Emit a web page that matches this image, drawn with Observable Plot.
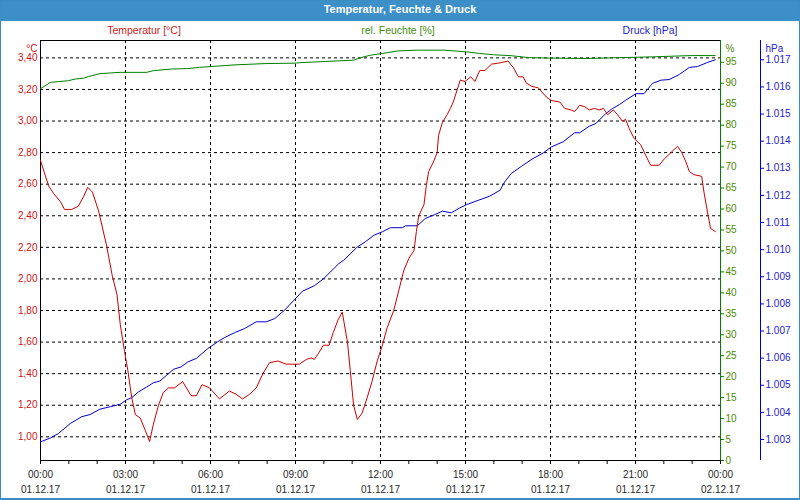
<!DOCTYPE html>
<html>
<head>
<meta charset="utf-8">
<script src="https://cdn.jsdelivr.net/npm/d3@7"></script>
<script src="https://cdn.jsdelivr.net/npm/@observablehq/plot@0.6"></script>
<style>
  body { margin: 0; background: #fff; }
  #page { position: relative; width: 800px; height: 500px; overflow: hidden; font-family: "Liberation Sans", sans-serif; background: #fff; }
  #border { position: absolute; left: 0; top: 0; width: 800px; height: 500px; box-sizing: border-box; border: 1px solid #3b8dc6; border-bottom-width: 2px; pointer-events: none; }
  #title { position: absolute; left: 0; top: 0; width: 800px; height: 21px; background: #3d8fc8; color: #fff; font-weight: bold; font-size: 11px; text-align: center; line-height: 19px; }
  .leg { position: absolute; top: 24px; font-size: 10.5px; transform: translateX(-50%); white-space: nowrap; }
  #chart { position: absolute; left: 0; top: 34px; }
</style>
</head>
<body>
<div id="page">
  <div id="title">Temperatur, Feuchte &amp; Druck</div>
  <div class="leg" style="left:144px;color:#c41a1a">Temperatur [°C]</div>
  <div class="leg" style="left:398px;color:#3f8c0c">rel. Feuchte [%]</div>
  <div class="leg" style="left:650px;color:#1e1ec0">Druck [hPa]</div>
  <div id="chart"></div>
  <div id="border"></div>
</div>
<script>
// ---- data ----
const tempTimes = ["00:00","00:17","00:28","00:42","00:51","01:06","01:20","01:31","01:40","01:50","02:03","02:20","02:32","02:42","02:49","02:58","03:05","03:13","03:21","03:31","03:42","03:51","03:59","04:10","04:20","04:31","04:44","05:01","05:19","05:30","05:42","05:58","06:19","06:40","06:54","07:08","07:23","07:37","07:51","08:05","08:23","08:40","09:08","09:23","09:33","09:40","09:49","09:59","10:11","10:20","10:30","10:39","10:50","10:56","11:03","11:11","11:21","11:32","11:42","11:53","12:04","12:14","12:28","12:39","12:49","13:00","13:11","13:16","13:21","13:32","13:37","13:42","13:52","14:00","14:03","14:11","14:21","14:28","14:34","14:49","14:59","15:11","15:20","15:30","15:41","15:55","16:16","16:30","16:41","16:52","17:02","17:09","17:20","17:34","17:52","18:02","18:20","18:30","18:44","18:51","19:02","19:13","19:22","19:33","19:43","19:52","20:01","20:13","20:22","20:32","20:39","20:47","20:57","21:11","21:22","21:32","21:50","22:01","22:15","22:29","22:38","22:47","22:54","23:04","23:20","23:25","23:32","23:39","23:49"];
const tempValues = [2.75,2.59,2.54,2.49,2.44,2.44,2.46,2.52,2.58,2.55,2.43,2.21,2.02,1.90,1.71,1.54,1.42,1.25,1.14,1.12,1.04,0.97,1.08,1.20,1.28,1.31,1.31,1.35,1.26,1.26,1.33,1.31,1.24,1.29,1.27,1.24,1.27,1.31,1.40,1.47,1.48,1.46,1.46,1.49,1.50,1.49,1.53,1.58,1.58,1.66,1.74,1.79,1.60,1.42,1.20,1.11,1.15,1.25,1.35,1.48,1.58,1.69,1.80,1.93,2.05,2.13,2.18,2.30,2.40,2.47,2.59,2.68,2.74,2.80,2.91,2.99,3.04,3.08,3.12,3.26,3.25,3.28,3.25,3.32,3.32,3.36,3.37,3.38,3.34,3.28,3.28,3.24,3.22,3.21,3.15,3.13,3.12,3.08,3.07,3.06,3.10,3.09,3.07,3.08,3.07,3.08,3.04,3.07,3.04,3.00,3.01,2.95,2.89,2.85,2.78,2.72,2.72,2.76,2.80,2.84,2.80,2.74,2.68,2.66,2.65,2.55,2.43,2.32,2.30];

const humTimes = ["00:00","00:21","00:38","00:59","01:13","01:31","01:42","02:06","02:49","03:45","03:59","04:38","05:12","05:37","06:15","06:54","07:58","09:02","09:08","10:04","11:03","11:18","11:39","12:04","12:35","13:18","14:14","15:02","15:30","15:59","16:34","17:16","18:02","19:16","19:47","21:36","22:57","23:49"];
const humValues = [88.7,90.2,90.4,90.6,91.0,91.2,91.6,92.3,92.6,92.6,93.0,93.4,93.5,93.8,94.1,94.4,94.7,94.8,94.9,95.2,95.5,96.1,96.7,97.1,97.7,97.9,97.9,97.5,97.1,96.8,96.6,96.1,96.0,95.9,96.0,96.3,96.6,96.6];

const presTimes = ["00:00","00:21","00:38","01:03","01:27","01:45","02:06","02:28","02:49","03:03","03:13","03:28","03:45","03:59","04:13","04:27","04:42","04:58","05:12","05:30","05:54","06:15","06:30","06:51","07:12","07:37","07:58","08:16","08:37","08:58","09:15","09:40","10:00","10:32","10:42","11:11","11:28","11:46","12:04","12:21","12:46","12:53","13:18","13:35","13:56","14:11","14:30","14:48","15:02","15:27","15:51","16:13","16:23","16:37","16:59","17:23","17:45","18:02","18:27","18:51","19:02","19:22","19:36","19:57","20:11","20:26","20:39","21:01","21:18","21:36","21:54","22:11","22:33","22:54","23:11","23:32","23:49"];
const presValues = [1.00291,1.00306,1.00322,1.00359,1.00384,1.00392,1.00412,1.00421,1.00430,1.00447,1.00454,1.00476,1.00494,1.00509,1.00516,1.00537,1.00559,1.00568,1.00586,1.00599,1.00635,1.00660,1.00676,1.00694,1.00709,1.00734,1.00734,1.00746,1.00777,1.00816,1.00847,1.00867,1.00894,1.00949,1.00961,1.01010,1.01029,1.01053,1.01066,1.01081,1.01081,1.01088,1.01088,1.01115,1.01130,1.01142,1.01136,1.01154,1.01166,1.01182,1.01197,1.01219,1.01250,1.01281,1.01308,1.01336,1.01357,1.01379,1.01398,1.01431,1.01431,1.01455,1.01465,1.01502,1.01520,1.01535,1.01551,1.01575,1.01575,1.01613,1.01625,1.01627,1.01646,1.01672,1.01675,1.01690,1.01700];

// tick values
const tempTicks = [1.00,1.20,1.40,1.60,1.80,2.00,2.20,2.40,2.60,2.80,3.00,3.20,3.40];
const humTicks = [0,5,10,15,20,25,30,35,40,45,50,55,60,65,70,75,80,85,90,95];
const presTicks = [1.003,1.004,1.005,1.006,1.007,1.008,1.009,1.010,1.011,1.012,1.013,1.014,1.015,1.016,1.017];
const labelHours = [0,3,6,9,12,15,18,21,24];
const gridHours = [3,6,9,12,15,18,21];
const minorHours = d3.range(0, 25);

// scale domains of the three axes
const tempDomain = [0.85, 3.51];
const humDomain = [0, 100.2];
const presDomain = [1.002226, 1.017712];

// ---- build ----
const at = (t) => { const [h, m] = t.split(":").map(Number); return new Date(Date.UTC(2017, 11, 1, h, m)); };
const hour = (h) => new Date(Date.UTC(2017, 11, 1, h));
const temp = tempTimes.map((t, i) => ({date: at(t), value: tempValues[i]}));
const hum = humTimes.map((t, i) => ({date: at(t), value: humValues[i]}));
const pres = presTimes.map((t, i) => ({date: at(t), value: presValues[i]}));

const humToY = d3.scaleLinear(humDomain, tempDomain);
const presToY = d3.scaleLinear(presDomain, tempDomain);

const cRed = "#cc0000", cGreen = "#008000", cBlue = "#0000cc";

const chart = Plot.plot({
  width: 800, height: 466,
  marginTop: 6, marginBottom: 40, marginLeft: 40, marginRight: 80,
  style: {fontFamily: "Liberation Sans, sans-serif", fontSize: "10px", background: "transparent", overflow: "visible"},
  x: {type: "utc", domain: [hour(0), hour(24)]},
  y: {domain: tempDomain},
  marks: [
    Plot.ruleY(tempTicks, {stroke: "#000", strokeDasharray: "3,3"}),
    Plot.ruleX(gridHours.map(hour), {stroke: "#000", strokeDasharray: "3,3"}),
    Plot.frame({stroke: "#000"}),
    Plot.ruleX([hour(24)], {stroke: cGreen}),
    Plot.ruleX([hour(24)], {stroke: cBlue, dx: 40}),
    Plot.axisY(tempTicks, {anchor: "left", tickSize: 0, tickPadding: 3, tickFormat: d => d.toFixed(2).replace(".", ","), color: "#cc1414", label: null}),
    Plot.axisY(humTicks.map(humToY), {anchor: "right", tickSize: 3, tickPadding: 2, tickFormat: t => String(Math.round(humToY.invert(t))), color: cGreen, fill: "#4a8a00", label: null}),
    Plot.axisY(presTicks.map(presToY), {anchor: "right", dx: 40, tickSize: 3, tickPadding: 2, tickFormat: t => presToY.invert(t).toFixed(3), color: cBlue, fill: "#2222cc", label: null}),
    Plot.axisX(minorHours.map(hour), {tickSize: 4, tickFormat: () => "", label: null, color: "#000"}),
    Plot.axisX(labelHours.map(hour), {tickSize: 4, tickPadding: 3, lineHeight: 1.5, tickFormat: d3.utcFormat("%H:%M\n%d.%m.%y"), color: "#000", fill: "#2a2a2a", label: null}),
    Plot.line(hum, {x: "date", y: d => humToY(d.value), stroke: cGreen, strokeWidth: 1}),
    Plot.line(pres, {x: "date", y: d => presToY(d.value), stroke: cBlue, strokeWidth: 1}),
    Plot.line(temp, {x: "date", y: "value", stroke: cRed, strokeWidth: 1}),
    Plot.text(["°C"], {text: d => d, frameAnchor: "top-left", dx: -3, dy: 4, textAnchor: "end", fill: "#cc1414"}),
    Plot.text(["%"], {text: d => d, frameAnchor: "top-right", dx: 5, dy: 4, textAnchor: "start", fill: "#4a8a00"}),
    Plot.text(["hPa"], {text: d => d, frameAnchor: "top-right", dx: 45, dy: 4, textAnchor: "start", fill: "#2222cc"})
  ]
});
document.getElementById("chart").appendChild(chart);
</script>
</body>
</html>
